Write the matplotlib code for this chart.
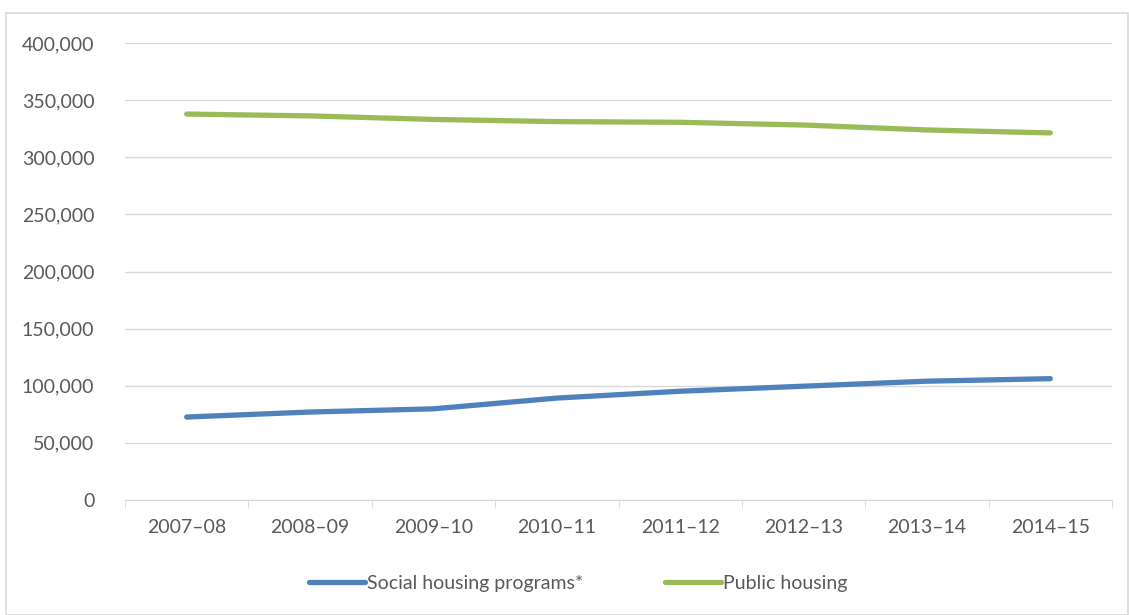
import numpy as np
import matplotlib.pyplot as plt
from matplotlib.patches import Rectangle
from matplotlib.ticker import FuncFormatter

years = ['2007–08', '2008–09', '2009–10', '2010–11', '2011–12', '2012–13', '2013–14', '2014–15']
social = [72600, 77000, 79800, 89200, 95200, 99600, 104000, 106200]
public = [337800, 336200, 333100, 331200, 330600, 328200, 323900, 321300]

plt.rcParams['font.family'] = ['Lato', 'DejaVu Sans']
grey = '#595959'

fig = plt.figure(figsize=(11.29, 6.15), dpi=100)
ax = fig.add_axes([125 / 1129, 1 - 500 / 615, 987 / 1129, 457 / 615])

x = np.arange(len(years))
ax.plot(x, social, color='#4F81BD', lw=3.8, solid_capstyle='round', label='Social housing programs*')
ax.plot(x, public, color='#9BBB59', lw=3.8, solid_capstyle='round', label='Public housing')

ax.set_xlim(-0.5, len(years) - 0.5)
ax.set_ylim(0, 400000)
ax.set_yticks(np.arange(0, 400001, 50000))
ax.yaxis.set_major_formatter(FuncFormatter(lambda v, p: f'{int(v):,}'))
ax.set_xticks(x)
ax.set_xticklabels(years)
ax.set_xticks(np.arange(-0.5, len(years)), minor=True)

ax.grid(axis='y', color='#D9D9D9', lw=1)
ax.set_axisbelow(True)
for s in ['top', 'right', 'left']:
    ax.spines[s].set_visible(False)
ax.spines['bottom'].set_color('#D9D9D9')
ax.tick_params(axis='both', which='major', length=0, labelsize=14, labelcolor=grey)
ax.tick_params(axis='x', which='major', pad=14)
ax.tick_params(axis='y', pad=22)
ax.tick_params(axis='x', which='minor', length=6, color='#D9D9D9')

leg = ax.legend(loc='center', bbox_to_anchor=(578 / 1129, 1 - 583 / 615), bbox_transform=fig.transFigure,
                ncol=2, frameon=False, fontsize=14, handlelength=2.9, handletextpad=0.1, columnspacing=4.2)
for t in leg.get_texts():
    t.set_color(grey)
for h in leg.get_lines():
    h.set_solid_capstyle('round')

fig.patches.append(Rectangle((6 / 1129, 0), 1 - 7 / 1129, 1 - 13 / 615, transform=fig.transFigure,
                             fill=False, edgecolor='#D9D9D9', lw=1.2))

fig.savefig('out.png', dpi=100)
